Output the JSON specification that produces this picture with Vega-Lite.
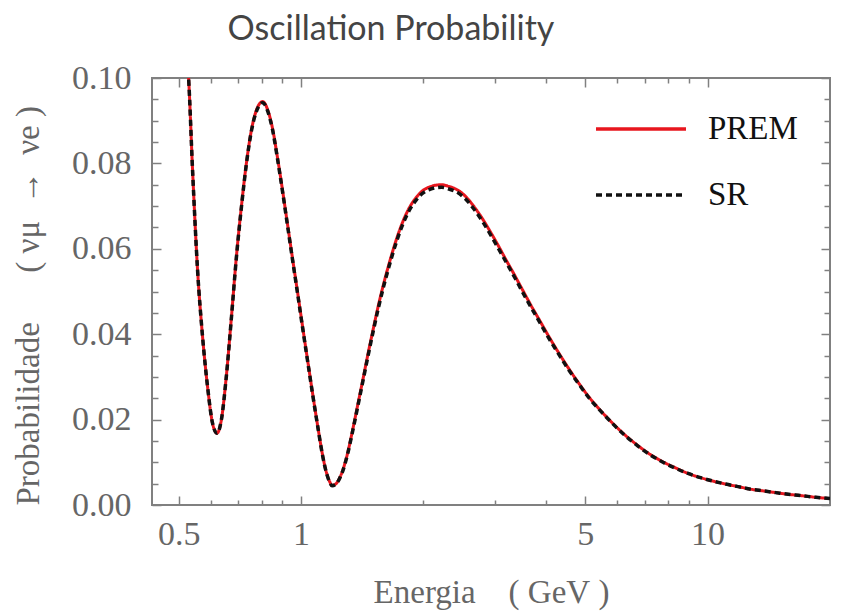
{
  "$schema": "https://vega.github.io/schema/vega-lite/v6.json",
  "width": 678,
  "height": 427,
  "autosize": {"type": "none"},
  "padding": {"left": 152, "top": 78, "right": 14, "bottom": 108},
  "background": "white",
  "title": {
    "text": "Oscillation Probability",
    "font": "Lato",
    "fontSize": 34,
    "fontWeight": "normal",
    "color": "#444444",
    "anchor": "middle",
    "frame": "group",
    "dx": -100,
    "offset": 14
  },
  "datasets": {
    "prem": [
      {"E": 0.5204, "P": 0.1089}, {"E": 0.5288, "P": 0.1003}, {"E": 0.5410, "P": 0.0785},
      {"E": 0.5566, "P": 0.0550}, {"E": 0.5726, "P": 0.0394}, {"E": 0.5890, "P": 0.0277},
      {"E": 0.6060, "P": 0.0191}, {"E": 0.6214, "P": 0.0168}, {"E": 0.6368, "P": 0.0199},
      {"E": 0.6551, "P": 0.0302}, {"E": 0.6740, "P": 0.0438}, {"E": 0.6934, "P": 0.0581},
      {"E": 0.7136, "P": 0.0700}, {"E": 0.7340, "P": 0.0801}, {"E": 0.7551, "P": 0.0878},
      {"E": 0.7769, "P": 0.0925}, {"E": 0.8050, "P": 0.0945}, {"E": 0.8268, "P": 0.0927},
      {"E": 0.8505, "P": 0.0883}, {"E": 0.8748, "P": 0.0815}, {"E": 0.9003, "P": 0.0738},
      {"E": 0.9262, "P": 0.0658}, {"E": 0.9528, "P": 0.0578}, {"E": 0.9804, "P": 0.0499},
      {"E": 1.0085, "P": 0.0419}, {"E": 1.0376, "P": 0.0340}, {"E": 1.0675, "P": 0.0262},
      {"E": 1.0982, "P": 0.0187}, {"E": 1.1298, "P": 0.0117}, {"E": 1.1557, "P": 0.0075},
      {"E": 1.1756, "P": 0.0055}, {"E": 1.1923, "P": 0.0046}, {"E": 1.2165, "P": 0.0049},
      {"E": 1.2410, "P": 0.0061}, {"E": 1.2672, "P": 0.0082}, {"E": 1.3023, "P": 0.0122},
      {"E": 1.3417, "P": 0.0179}, {"E": 1.3805, "P": 0.0237}, {"E": 1.4204, "P": 0.0295},
      {"E": 1.4614, "P": 0.0354}, {"E": 1.5035, "P": 0.0410}, {"E": 1.5469, "P": 0.0464},
      {"E": 1.5916, "P": 0.0513}, {"E": 1.6533, "P": 0.0571}, {"E": 1.7176, "P": 0.0623},
      {"E": 1.7824, "P": 0.0665}, {"E": 1.8513, "P": 0.0698}, {"E": 1.9231, "P": 0.0721},
      {"E": 1.9968, "P": 0.0737}, {"E": 2.0745, "P": 0.0745}, {"E": 2.1464, "P": 0.0749},
      {"E": 2.2168, "P": 0.0750}, {"E": 2.3106, "P": 0.0746}, {"E": 2.4138, "P": 0.0739},
      {"E": 2.5306, "P": 0.0724}, {"E": 2.6530, "P": 0.0701}, {"E": 2.7827, "P": 0.0673},
      {"E": 2.9170, "P": 0.0641}, {"E": 3.0574, "P": 0.0607}, {"E": 3.2066, "P": 0.0571},
      {"E": 3.3620, "P": 0.0536}, {"E": 3.5237, "P": 0.0500}, {"E": 3.6955, "P": 0.0464},
      {"E": 3.8747, "P": 0.0430}, {"E": 4.0615, "P": 0.0396}, {"E": 4.2602, "P": 0.0363},
      {"E": 4.5290, "P": 0.0323}, {"E": 4.8147, "P": 0.0286}, {"E": 5.1168, "P": 0.0252},
      {"E": 5.4451, "P": 0.0222}, {"E": 5.8479, "P": 0.0191}, {"E": 6.2806, "P": 0.0163},
      {"E": 6.7424, "P": 0.0139}, {"E": 7.2363, "P": 0.0118}, {"E": 7.7698, "P": 0.0101},
      {"E": 8.3391, "P": 0.0087}, {"E": 8.9495, "P": 0.0074}, {"E": 9.6094, "P": 0.0064},
      {"E": 10.318, "P": 0.0056}, {"E": 11.076, "P": 0.0049}, {"E": 11.889, "P": 0.0043},
      {"E": 12.764, "P": 0.0037}, {"E": 13.708, "P": 0.0033}, {"E": 14.714, "P": 0.0029},
      {"E": 15.793, "P": 0.0025}, {"E": 16.957, "P": 0.0022}, {"E": 18.466, "P": 0.0018},
      {"E": 20.0, "P": 0.0015}
    ],
    "sr": [
      {"E": 0.5204, "P": 0.1089}, {"E": 0.5288, "P": 0.1003}, {"E": 0.5410, "P": 0.0785},
      {"E": 0.5566, "P": 0.0550}, {"E": 0.5726, "P": 0.0394}, {"E": 0.5890, "P": 0.0277},
      {"E": 0.6060, "P": 0.0191}, {"E": 0.6214, "P": 0.0168}, {"E": 0.6368, "P": 0.0199},
      {"E": 0.6551, "P": 0.0301}, {"E": 0.6740, "P": 0.0437}, {"E": 0.6934, "P": 0.0579},
      {"E": 0.7136, "P": 0.0698}, {"E": 0.7340, "P": 0.0799}, {"E": 0.7551, "P": 0.0876},
      {"E": 0.7769, "P": 0.0922}, {"E": 0.8050, "P": 0.0942}, {"E": 0.8268, "P": 0.0924},
      {"E": 0.8505, "P": 0.0880}, {"E": 0.8748, "P": 0.0812}, {"E": 0.9003, "P": 0.0735},
      {"E": 0.9262, "P": 0.0655}, {"E": 0.9528, "P": 0.0575}, {"E": 0.9804, "P": 0.0496},
      {"E": 1.0085, "P": 0.0416}, {"E": 1.0376, "P": 0.0338}, {"E": 1.0675, "P": 0.0260},
      {"E": 1.0982, "P": 0.0186}, {"E": 1.1298, "P": 0.0116}, {"E": 1.1557, "P": 0.0074},
      {"E": 1.1756, "P": 0.0054}, {"E": 1.1923, "P": 0.0045}, {"E": 1.2165, "P": 0.0048},
      {"E": 1.2410, "P": 0.0060}, {"E": 1.2672, "P": 0.0080}, {"E": 1.3023, "P": 0.0120},
      {"E": 1.3417, "P": 0.0176}, {"E": 1.3805, "P": 0.0233}, {"E": 1.4204, "P": 0.0291},
      {"E": 1.4614, "P": 0.0349}, {"E": 1.5035, "P": 0.0405}, {"E": 1.5469, "P": 0.0458},
      {"E": 1.5916, "P": 0.0507}, {"E": 1.6533, "P": 0.0565}, {"E": 1.7176, "P": 0.0617},
      {"E": 1.7824, "P": 0.0659}, {"E": 1.8513, "P": 0.0692}, {"E": 1.9231, "P": 0.0715},
      {"E": 1.9968, "P": 0.0731}, {"E": 2.0745, "P": 0.0739}, {"E": 2.1464, "P": 0.0743},
      {"E": 2.2168, "P": 0.0744}, {"E": 2.3106, "P": 0.0740}, {"E": 2.4138, "P": 0.0733},
      {"E": 2.5306, "P": 0.0718}, {"E": 2.6530, "P": 0.0695}, {"E": 2.7827, "P": 0.0667},
      {"E": 2.9170, "P": 0.0635}, {"E": 3.0574, "P": 0.0601}, {"E": 3.2066, "P": 0.0566},
      {"E": 3.3620, "P": 0.0531}, {"E": 3.5237, "P": 0.0495}, {"E": 3.6955, "P": 0.0460},
      {"E": 3.8747, "P": 0.0426}, {"E": 4.0615, "P": 0.0392}, {"E": 4.2602, "P": 0.0360},
      {"E": 4.5290, "P": 0.0320}, {"E": 4.8147, "P": 0.0284}, {"E": 5.1168, "P": 0.0250},
      {"E": 5.4451, "P": 0.0221}, {"E": 5.8479, "P": 0.0190}, {"E": 6.2806, "P": 0.0162},
      {"E": 6.7424, "P": 0.0138}, {"E": 7.2363, "P": 0.0117}, {"E": 7.7698, "P": 0.0100},
      {"E": 8.3391, "P": 0.0086}, {"E": 8.9495, "P": 0.0074}, {"E": 9.6094, "P": 0.0064},
      {"E": 10.318, "P": 0.0056}, {"E": 11.076, "P": 0.0049}, {"E": 11.889, "P": 0.0043},
      {"E": 12.764, "P": 0.0037}, {"E": 13.708, "P": 0.0033}, {"E": 14.714, "P": 0.0029},
      {"E": 15.793, "P": 0.0025}, {"E": 16.957, "P": 0.0022}, {"E": 18.466, "P": 0.0018},
      {"E": 20.0, "P": 0.0015}
    ]
  },
  "layer": [
    {
      "data": {"name": "prem"},
      "transform": [{"calculate": "'PREM'", "as": "series"}],
      "mark": {"type": "line", "clip": true, "interpolate": "monotone", "strokeWidth": 3},
      "encoding": {
        "x": {
          "field": "E", "type": "quantitative",
          "scale": {"type": "log", "domain": [0.43, 20], "nice": false},
          "axis": {
            "orient": "bottom", "values": [0.5, 1, 5, 10], "format": "~g",
            "tickSize": -9, "tickColor": "#808080", "tickWidth": 1.5,
            "labelFont": "Liberation Serif", "labelFontSize": 34, "labelColor": "#666666",
            "labelPadding": 21, "labelFlush": false, "labelOverlap": false,
            "domain": false, "grid": false,
            "title": "Energia\u00a0\u00a0\u00a0\u00a0(\u00a0GeV\u00a0)",
            "titleFont": "Liberation Serif", "titleFontSize": 33, "titleFontWeight": "normal",
            "titleColor": "#666666", "titlePadding": 25
          }
        },
        "y": {
          "field": "P", "type": "quantitative",
          "scale": {"domain": [0, 0.1], "nice": false, "zero": false},
          "axis": {
            "orient": "left", "values": [0, 0.02, 0.04, 0.06, 0.08, 0.1], "format": ".2f",
            "tickSize": -9, "tickColor": "#808080", "tickWidth": 1.5,
            "labelFont": "Liberation Serif", "labelFontSize": 34, "labelColor": "#666666",
            "labelPadding": 30, "labelFlush": false, "labelOverlap": false,
            "domain": false, "grid": false,
            "title": "Probabilidade\u00a0\u00a0\u00a0\u00a0\u00a0\u00a0(\u00a0νμ\u00a0\u00a0→\u00a0\u00a0νe\u00a0)",
            "titleFont": "Liberation Serif", "titleFontSize": 33, "titleFontWeight": "normal",
            "titleColor": "#666666", "titlePadding": 26, "titleAnchor": "start"
          }
        },
        "color": {
          "field": "series", "type": "nominal",
          "scale": {"domain": ["PREM", "SR"], "range": ["#e8161e", "#111111"]},
          "legend": {
            "title": null, "orient": "none", "legendX": 442, "legendY": 4,
            "symbolType": "stroke", "symbolSize": 8100, "symbolStrokeWidth": 3.5,
            "labelFont": "Liberation Serif", "labelFontSize": 33, "labelColor": "#111111",
            "labelOffset": 20, "rowPadding": 2
          }
        },
        "strokeDash": {
          "field": "series", "type": "nominal",
          "scale": {"domain": ["PREM", "SR"], "range": [[1, 0], [6, 4]]},
          "legend": {
            "title": null, "orient": "none", "legendX": 442, "legendY": 4,
            "symbolType": "stroke", "symbolSize": 8100, "symbolStrokeWidth": 3.5,
            "labelFont": "Liberation Serif", "labelFontSize": 33, "labelColor": "#111111",
            "labelOffset": 20, "rowPadding": 2
          }
        }
      }
    },
    {
      "data": {"name": "sr"},
      "transform": [{"calculate": "'SR'", "as": "series"}],
      "mark": {"type": "line", "clip": true, "interpolate": "monotone", "strokeWidth": 3.5},
      "encoding": {
        "x": {
          "field": "E", "type": "quantitative",
          "scale": {"type": "log", "domain": [0.43, 20], "nice": false},
          "axis": {
            "orient": "bottom", "values": [0.6, 0.7, 0.8, 0.9, 2, 3, 4, 6, 7, 8, 9],
            "tickSize": -5, "tickColor": "#808080", "tickWidth": 1.5,
            "labels": false, "domain": false, "grid": false, "title": null
          }
        },
        "y": {
          "field": "P", "type": "quantitative",
          "scale": {"domain": [0, 0.1], "nice": false, "zero": false},
          "axis": {
            "orient": "left",
            "values": [0.005, 0.01, 0.015, 0.025, 0.03, 0.035, 0.045, 0.05, 0.055, 0.065, 0.07, 0.075, 0.085, 0.09, 0.095],
            "tickSize": -6, "tickColor": "#808080", "tickWidth": 1.5,
            "labels": false, "domain": false, "grid": false, "title": null
          }
        },
        "color": {"field": "series", "type": "nominal", "scale": {"domain": ["PREM", "SR"], "range": ["#e8161e", "#111111"]}},
        "strokeDash": {"field": "series", "type": "nominal", "scale": {"domain": ["PREM", "SR"], "range": [[1, 0], [6, 4]]}}
      }
    },
    {
      "data": {"name": "prem"},
      "mark": {"type": "line", "clip": true, "opacity": 0},
      "encoding": {
        "x": {
          "field": "E", "type": "quantitative",
          "scale": {"type": "log", "domain": [0.43, 20], "nice": false},
          "axis": {
            "orient": "top", "values": [0.5, 1, 5, 10],
            "tickSize": -9, "tickColor": "#808080", "tickWidth": 1.5,
            "labels": false, "domain": false, "grid": false, "title": null
          }
        },
        "y": {
          "field": "P", "type": "quantitative",
          "scale": {"domain": [0, 0.1], "nice": false, "zero": false},
          "axis": {
            "orient": "right", "values": [0, 0.02, 0.04, 0.06, 0.08, 0.1],
            "tickSize": -9, "tickColor": "#808080", "tickWidth": 1.5,
            "labels": false, "domain": false, "grid": false, "title": null
          }
        }
      }
    },
    {
      "data": {"name": "prem"},
      "mark": {"type": "line", "clip": true, "opacity": 0},
      "encoding": {
        "x": {
          "field": "E", "type": "quantitative",
          "scale": {"type": "log", "domain": [0.43, 20], "nice": false},
          "axis": {
            "orient": "top", "values": [0.6, 0.7, 0.8, 0.9, 2, 3, 4, 6, 7, 8, 9],
            "tickSize": -5, "tickColor": "#808080", "tickWidth": 1.5,
            "labels": false, "domain": false, "grid": false, "title": null
          }
        },
        "y": {
          "field": "P", "type": "quantitative",
          "scale": {"domain": [0, 0.1], "nice": false, "zero": false},
          "axis": {
            "orient": "right",
            "values": [0.005, 0.01, 0.015, 0.025, 0.03, 0.035, 0.045, 0.05, 0.055, 0.065, 0.07, 0.075, 0.085, 0.09, 0.095],
            "tickSize": -6, "tickColor": "#808080", "tickWidth": 1.5,
            "labels": false, "domain": false, "grid": false, "title": null
          }
        }
      }
    }
  ],
  "resolve": {"axis": {"x": "independent", "y": "independent"}},
  "config": {
    "view": {"stroke": "#808080", "strokeWidth": 2},
    "font": "Liberation Serif"
  }
}
